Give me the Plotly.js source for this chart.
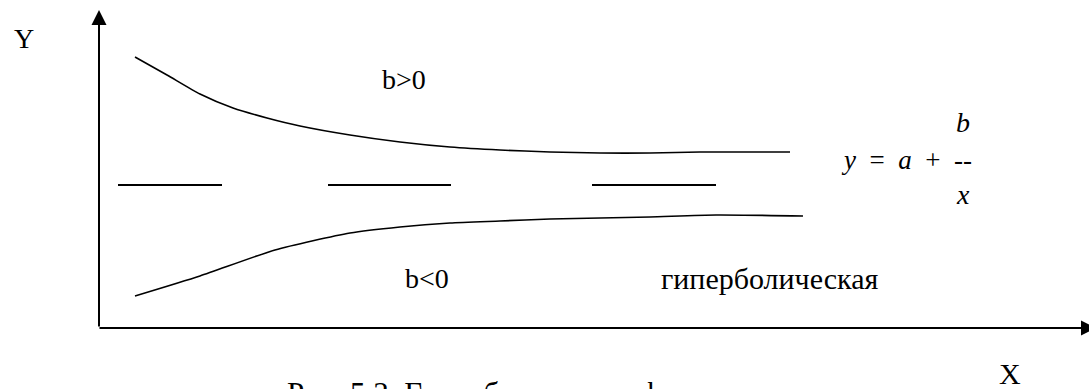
<!DOCTYPE html>
<html>
<head>
<meta charset="utf-8">
<script src="https://cdn.plot.ly/plotly-3.0.1.min.js"></script>
<style>
  html, body { margin: 0; padding: 0; background: #fff; }
  #plot { width: 1089px; height: 389px; }
</style>
</head>
<body>
<div id="plot"></div>
<script>
// upper branch (b>0)
var upperX = [135, 167, 200, 233, 267, 300, 350, 400, 450, 500, 550, 600, 650, 700, 790]
var upperY = [57, 75, 94, 108, 118, 126, 135, 142, 147, 150, 152, 153, 153, 152, 152]
// lower branch (b<0)
var lowerX = [135, 200, 275, 350, 400, 450, 500, 550, 600, 650, 716, 803]
var lowerY = [296, 276, 250, 233, 227, 223, 221, 219, 218, 217, 215, 216]
// asymptote y = a, drawn as three dashes
var asymX = [118, 222, null, 328, 451, null, 592, 716]
var asymY = [185, 185, null, 185, 185, null, 185, 185]
// axes: origin and arrow tips
var originX = 99, originY = 328
var yTipY = 10
var xTipX = 1096

var W = 1089, H = 389
var serif = 'Liberation Serif'
var gap = '&nbsp;&nbsp;'

var line = function (x, y, w) {
    return {
        x: x, y: y,
        mode: 'lines',
        type: 'scatter',
        line: {color: '#000', width: w, shape: 'spline', smoothing: 0.6},
        hoverinfo: 'skip',
        connectgaps: false,
    }
}

var data = [
    line(upperX, upperY, 1.6),
    line(lowerX, lowerY, 1.6),
    {
        x: asymX, y: asymY,
        mode: 'lines', type: 'scatter',
        line: {color: '#000', width: 2.2},
        hoverinfo: 'skip',
        connectgaps: false,
    },
]

var txt = function (x, y, text, size, italic) {
    return {
        x: x, y: y, xref: 'x', yref: 'y',
        text: italic ? '<i>' + text + '</i>' : text,
        showarrow: false,
        font: {family: serif, size: size, color: '#000'},
        xanchor: 'left', yanchor: 'middle',
        borderpad: 0,
    }
}

var arrow = function (x, y, ax, ay) {
    return {
        x: x, y: y, ax: ax, ay: ay,
        xref: 'x', yref: 'y', axref: 'x', ayref: 'y',
        text: '', showarrow: true,
        arrowhead: 2, arrowsize: 1.5, arrowwidth: 2, arrowcolor: '#000',
        standoff: 0, startstandoff: 0,
    }
}

// caption sits below the picture edge, so it is placed in paper units
var caption = {
    x: 286 / W, y: (H - 393) / H, xref: 'paper', yref: 'paper',
    text: 'Рис. 5.3. Гиперболическая функция',
    showarrow: false,
    font: {family: serif, size: 31, color: '#000'},
    xanchor: 'left', yanchor: 'middle',
    borderpad: 0,
}

var layout = {
    width: W, height: H,
    margin: {l: 0, r: 0, t: 0, b: 0},
    paper_bgcolor: '#fff', plot_bgcolor: '#fff',
    showlegend: false,
    font: {family: serif},
    xaxis: {range: [0, W], visible: false, fixedrange: true},
    yaxis: {range: [H, 0], visible: false, fixedrange: true},
    annotations: [
        arrow(originX, yTipY, originX, originY),
        arrow(xTipX, originY, originX - 1, originY),
        txt(13, 38, 'Y', 28),
        txt(381, 79, 'b&gt;0', 28),
        txt(404, 278, 'b&lt;0', 28),
        txt(660, 278, 'гиперболическая', 30),
        txt(955, 122, 'b', 28, true),
        txt(840, 160, ['<i>y</i>', '=', '<i>a</i>', '+', '--'].join(gap), 27),
        txt(955, 194, 'x', 28, true),
        txt(998, 373, 'X', 30),
        caption,
    ],
}

Plotly.newPlot('plot', data, layout, {staticPlot: true})
</script>
</body>
</html>
